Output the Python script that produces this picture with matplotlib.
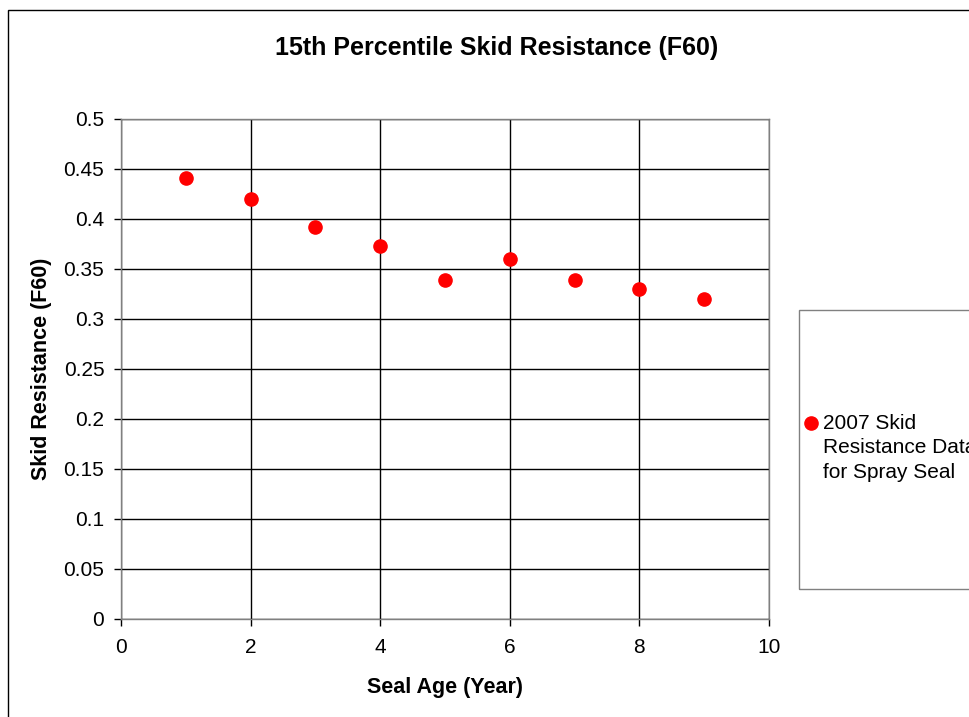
import matplotlib.pyplot as plt
from matplotlib.patches import Rectangle

plt.rcParams['font.family'] = ['Liberation Sans', 'DejaVu Sans']

seal_age = [1, 2, 3, 4, 5, 6, 7, 8, 9]
skid_f60 = [0.441, 0.420, 0.392, 0.373, 0.339, 0.360, 0.339, 0.330, 0.320]
series_label = '2007 Skid\nResistance Data\nfor Spray Seal'
x_ticks = [0, 2, 4, 6, 8, 10]
y_ticks = [0, 0.05, 0.1, 0.15, 0.2, 0.25, 0.3, 0.35, 0.4, 0.45, 0.5]
y_tick_labels = ['0', '0.05', '0.1', '0.15', '0.2', '0.25', '0.3', '0.35', '0.4', '0.45', '0.5']

W, H = 970, 717
fig = plt.figure(figsize=(W / 100, H / 100), dpi=100)
ax = fig.add_axes([121 / W, (H - 619) / H, (769 - 121) / W, 500 / H])

# outer chart border (runs off the right and bottom edge like the screenshot)
fig.add_artist(Rectangle((8 / W, -0.1), 1.2, (H - 10) / H + 0.1, transform=fig.transFigure,
                         fill=False, edgecolor='black', linewidth=1.0, clip_on=False))

pts, = ax.plot(seal_age, skid_f60, linestyle='none', marker='o', markersize=9.5,
               color='#ff0000', markeredgecolor='#ff0000', label=series_label, zorder=3)

ax.set_xlim(0, 10)
ax.set_ylim(0, 0.5)
ax.set_xticks(x_ticks)
ax.set_yticks(y_ticks)
ax.set_yticklabels(y_tick_labels)
ax.grid(True, color='black', linewidth=1.0)
ax.set_axisbelow(True)
for s in ax.spines.values():
    s.set_color('#808080')
    s.set_linewidth(1.0)
ax.tick_params(direction='out', length=5, width=1.0, color='black', labelsize=15)
ax.tick_params(axis='x', pad=9)
ax.tick_params(axis='y', pad=7)

ax.set_xlabel('Seal Age (Year)', fontsize=15.5, fontweight='bold', va='center')
ax.set_ylabel('Skid Resistance (F60)', fontsize=15.5, fontweight='bold', va='center')
ax.xaxis.set_label_coords(0.5, (619 - 687) / 500)
ax.yaxis.set_label_coords((42 - 121) / 648, 0.5)
fig.text(497 / W, 1 - 48 / H, '15th Percentile Skid Resistance (F60)', ha='center', va='center',
         fontsize=18, fontweight='bold')

# legend box
fig.add_artist(Rectangle((799 / W, (H - 589) / H), 0.3, 279 / H, transform=fig.transFigure,
                         fill=False, edgecolor='#808080', linewidth=1.0, clip_on=False))
leg = fig.legend(handles=[pts], loc='upper left', bbox_to_anchor=(805 / W, 1 - 414 / H),
                 frameon=False, fontsize=15, handlelength=0.6, handletextpad=0.25,
                 borderaxespad=0, borderpad=0, labelspacing=0)
leg.get_texts()[0].set_linespacing(1.36)
# Excel puts the marker next to the first line of a wrapped label
h = leg.legend_handles[0]
h.set_ydata([y + 18 for y in h.get_ydata()])

fig.savefig('out.png', dpi=100)
